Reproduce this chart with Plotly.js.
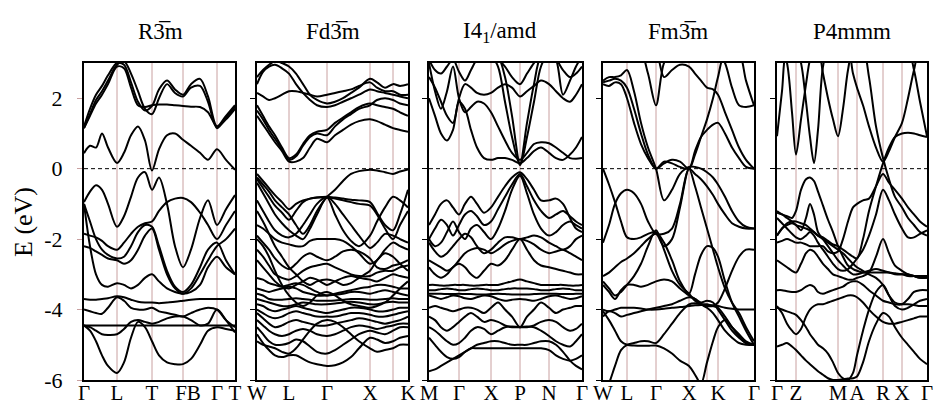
<!DOCTYPE html>
<html>
<head>
<meta charset="utf-8">
<script src="https://cdn.plot.ly/plotly-3.0.1.min.js"></script>
<style>html,body{margin:0;padding:0;background:#fff}#plot{width:935px;height:410px}</style>
</head>
<body>
<div id="plot"></div>
<script>
// ---------- shared ----------
const panelTitles = ['R3\u0305m', 'Fd3\u0305m', 'I4<sub>1</sub>/amd', 'Fm3\u0305m', 'P4mmm'];
const yTickVals = [2, 0, -2, -4, -6];
const yTickText = ['2', '0', '-2', '-4', '-6'];
const yTitle = 'E (eV)';

// ---------- panel 1 : R-3m ----------
const r3mLabels = ['Γ', 'L', 'T', 'FB', 'Γ', 'T'];
const r3mLabelPos = [0, 33, 68, 104, 133, 151];
const r3mLines = [33, 68, 99, 133];
const r3mK = [0,6,12,18,24,33,40,47,54,61,68,75,83,91,99,107,116,124,133,142,151];
const r3mBands = [
  [1.2,1.7,2.1,2.35,2.65,3.0,2.95,2.45,1.9,1.65,1.78,2.25,2.5,2.25,2.1,2.4,2.55,2.05,1.2,1.5,1.8],
  [1.15,1.55,1.95,2.2,2.5,2.95,3.05,2.7,2.2,1.7,1.55,2.0,2.4,2.15,2.05,2.3,2.35,1.9,1.15,1.45,1.75],
  [1.15,1.5,1.85,2.1,2.4,2.9,2.85,2.3,1.8,1.75,1.8,1.82,1.82,1.8,1.78,1.76,1.75,1.6,1.2,1.4,1.7],
  [0.44,0.65,0.6,1.0,0.6,0.16,0.45,0.95,1.2,0.8,-0.05,0.55,0.95,1.0,0.82,0.65,0.45,0.25,0.55,0.25,-0.03],
  [-0.95,-0.65,-0.47,-0.6,-1.0,-1.65,-1.35,-0.8,-0.25,-0.1,-0.6,-0.25,-1.0,-2.2,-2.8,-2.3,-1.4,-0.9,-1.6,-1.15,-0.75],
  [-1.85,-1.9,-1.95,-2.05,-2.2,-2.3,-2.1,-1.85,-1.65,-1.55,-1.5,-1.2,-0.95,-0.85,-0.83,-0.95,-1.25,-1.6,-2.0,-1.6,-1.2],
  [-1.0,-1.5,-2.0,-2.3,-2.45,-2.55,-2.5,-2.2,-1.8,-1.6,-1.65,-2.2,-2.9,-3.35,-3.5,-3.3,-2.8,-2.3,-2.1,-2.6,-3.0],
  [-2.2,-2.25,-2.35,-2.45,-2.55,-2.6,-2.7,-2.6,-2.3,-1.9,-1.7,-2.3,-3.0,-3.4,-3.55,-3.4,-3.0,-2.6,-2.2,-2.0,-1.7],
  [-1.0,-2.2,-3.0,-3.3,-3.35,-3.25,-3.3,-3.4,-3.3,-3.1,-3.0,-3.2,-3.4,-3.5,-3.55,-3.5,-3.3,-2.8,-2.5,-2.8,-3.0],
  [-3.7,-3.72,-3.72,-3.7,-3.68,-3.62,-3.65,-3.72,-3.78,-3.8,-3.8,-3.82,-3.8,-3.78,-3.75,-3.72,-3.7,-3.7,-3.7,-3.7,-3.7],
  [-4.0,-4.05,-4.1,-4.12,-3.95,-3.65,-3.75,-3.95,-4.0,-4.0,-3.95,-4.05,-4.1,-4.15,-4.2,-4.1,-4.0,-3.95,-4.0,-4.3,-4.5],
  [-4.45,-4.45,-4.45,-4.45,-4.45,-4.45,-4.45,-4.45,-4.45,-4.45,-4.45,-4.45,-4.45,-4.45,-4.45,-4.45,-4.45,-4.45,-4.45,-4.45,-4.45],
  [-4.45,-4.5,-4.6,-4.7,-4.72,-4.7,-4.55,-4.35,-4.3,-4.35,-4.4,-4.35,-4.25,-4.2,-4.2,-4.3,-4.45,-4.4,-4.0,-4.3,-4.65],
  [-4.45,-4.6,-4.9,-5.3,-5.6,-5.8,-5.5,-4.8,-4.35,-4.5,-4.9,-5.3,-5.5,-5.55,-5.55,-5.4,-5.0,-4.6,-4.5,-4.55,-4.6]
];

// ---------- panel 2 : Fd-3m ----------
const fd3mLabels = ['W', 'L', 'Γ', 'X', 'K'];
const fd3mLabelPos = [0, 32, 70, 113, 151];
const fd3mLines = [32, 70, 113, 136];
const fd3mK = [0,6,12,18,25,32,39,46,53,60,70,78,86,94,102,113,120,128,136,143,151];
const fd3mBands = [
  [2.6,2.8,2.95,3.05,3.0,2.9,2.7,2.4,2.1,1.95,1.85,1.9,2.0,2.15,2.3,2.55,2.45,2.3,2.4,2.35,2.4],
  [2.4,2.75,2.9,2.95,2.85,2.7,2.4,2.15,1.95,1.8,1.75,1.8,1.9,2.0,2.1,2.25,2.2,2.15,2.1,2.05,2.0],
  [2.15,2.05,1.95,2.0,2.1,2.2,2.2,2.15,2.1,2.05,2.1,2.15,2.2,2.25,2.35,2.45,2.3,2.2,2.2,2.1,2.1],
  [1.8,1.5,1.2,0.95,0.6,0.3,0.4,0.7,0.95,1.05,1.1,1.3,1.45,1.6,1.75,1.85,1.8,1.75,1.7,1.6,1.5],
  [1.5,1.25,1.0,0.75,0.5,0.2,0.2,0.3,0.6,0.85,0.75,0.95,1.1,1.25,1.35,1.4,1.35,1.25,1.15,1.1,1.05],
  [1.65,1.4,1.1,0.85,0.55,0.25,0.35,0.65,0.9,1.0,0.95,1.2,1.4,1.55,1.7,1.8,1.95,2.0,1.95,1.85,1.8],
  [-0.15,-0.35,-0.55,-0.75,-0.95,-1.15,-1.0,-0.9,-0.85,-0.82,-0.8,-0.82,-0.85,-0.88,-0.9,-0.95,-1.25,-1.6,-1.75,-1.3,-0.6],
  [-0.25,-0.45,-0.65,-0.9,-1.1,-1.3,-1.6,-1.85,-1.6,-1.2,-0.8,-0.6,-0.35,-0.15,-0.07,-0.03,-0.05,-0.1,-0.15,-0.08,-0.02],
  [-0.3,-0.55,-0.8,-1.05,-1.25,-1.45,-1.2,-0.95,-0.85,-0.82,-0.82,-0.85,-0.9,-0.95,-1.0,-1.05,-1.3,-1.7,-2.0,-1.6,-1.2],
  [-0.4,-0.7,-1.0,-1.3,-1.55,-1.75,-1.9,-2.0,-1.7,-1.3,-0.82,-1.3,-1.75,-2.05,-2.2,-1.9,-1.5,-1.1,-0.8,-0.9,-1.1],
  [-0.9,-1.2,-1.5,-1.75,-1.9,-1.95,-1.85,-1.6,-1.3,-1.0,-0.8,-1.0,-1.3,-1.6,-1.9,-2.25,-2.1,-1.85,-1.9,-2.0,-2.1],
  [-1.6,-1.7,-1.85,-2.0,-2.1,-2.15,-2.2,-2.2,-2.05,-2.0,-2.0,-2.0,-2.05,-2.2,-2.4,-2.7,-2.6,-2.3,-2.1,-2.2,-2.3],
  [-1.9,-2.1,-2.3,-2.55,-2.75,-2.85,-2.7,-2.5,-2.4,-2.5,-2.6,-2.5,-2.35,-2.3,-2.35,-2.55,-2.8,-2.85,-2.75,-2.7,-2.6],
  [-2.3,-2.5,-2.75,-3.0,-3.1,-3.15,-3.05,-2.9,-2.8,-2.75,-2.7,-2.8,-2.9,-3.0,-3.05,-3.05,-2.95,-2.9,-2.9,-2.8,-2.75],
  [-2.6,-2.8,-3.0,-3.2,-3.35,-3.4,-3.3,-3.2,-3.1,-3.15,-3.3,-3.2,-3.1,-3.05,-3.1,-3.15,-3.2,-3.1,-3.0,-3.05,-3.1],
  [-3.1,-3.15,-3.25,-3.3,-3.35,-3.3,-3.25,-3.3,-3.4,-3.5,-3.6,-3.55,-3.5,-3.45,-3.4,-3.35,-3.3,-3.3,-3.35,-3.4,-3.4],
  [-3.4,-3.45,-3.5,-3.45,-3.4,-3.35,-3.4,-3.5,-3.55,-3.6,-3.6,-3.58,-3.55,-3.5,-3.5,-3.55,-3.5,-3.45,-3.5,-3.55,-3.6],
  [-3.55,-3.6,-3.7,-3.72,-3.72,-3.7,-3.68,-3.7,-3.72,-3.75,-3.75,-3.74,-3.72,-3.7,-3.7,-3.72,-3.72,-3.7,-3.68,-3.7,-3.7],
  [-3.7,-3.75,-3.8,-3.85,-3.9,-3.9,-3.85,-3.8,-3.82,-3.85,-3.85,-3.83,-3.8,-3.78,-3.8,-3.85,-3.85,-3.8,-3.78,-3.8,-3.8],
  [-3.85,-3.9,-4.0,-4.05,-4.0,-3.95,-3.9,-3.95,-4.0,-4.05,-4.1,-4.05,-4.0,-3.95,-3.95,-4.0,-4.05,-4.05,-4.0,-3.95,-3.95],
  [-4.0,-4.1,-4.2,-4.25,-4.2,-4.1,-4.05,-4.1,-4.15,-4.2,-4.2,-4.2,-4.15,-4.1,-4.1,-4.15,-4.2,-4.2,-4.15,-4.1,-4.05],
  [-4.1,-4.25,-4.4,-4.5,-4.45,-4.35,-4.3,-4.35,-4.4,-4.45,-4.45,-4.4,-4.35,-4.3,-4.25,-4.3,-4.35,-4.4,-4.35,-4.3,-4.2],
  [-4.3,-4.45,-4.6,-4.7,-4.75,-4.7,-4.6,-4.55,-4.6,-4.7,-4.75,-4.7,-4.6,-4.5,-4.45,-4.5,-4.55,-4.5,-4.45,-4.4,-4.4],
  [-4.5,-4.7,-4.9,-5.0,-5.0,-4.95,-4.85,-4.9,-5.05,-5.2,-5.25,-5.15,-5.0,-4.85,-4.7,-4.6,-4.65,-4.7,-4.6,-4.5,-4.5],
  [-4.7,-4.95,-5.15,-5.3,-5.35,-5.3,-5.3,-5.4,-5.5,-5.55,-5.6,-5.58,-5.5,-5.35,-5.1,-4.8,-4.85,-4.95,-4.9,-4.8,-4.75],
  [-4.9,-5.0,-5.05,-5.1,-5.2,-5.25,-5.1,-4.85,-4.6,-4.4,-4.3,-4.35,-4.5,-4.7,-4.9,-5.1,-5.2,-5.15,-5.1,-5.0,-5.0],
  [-1.2,-1.5,-1.85,-2.2,-2.5,-2.8,-3.0,-3.2,-3.3,-3.2,-3.15,-3.2,-3.3,-3.25,-3.1,-2.9,-2.6,-2.4,-2.5,-2.7,-2.9],
  [-2.0,-2.2,-2.5,-2.9,-3.3,-3.6,-3.8,-3.9,-3.8,-3.6,-3.5,-3.6,-3.75,-3.85,-3.9,-3.95,-3.9,-3.8,-3.6,-3.4,-3.2]
];

// ---------- panel 3 : I4_1/amd ----------
const i41Labels = ['M', 'Γ', 'X', 'P', 'N', 'Γ'];
const i41LabelPos = [0, 30, 62, 91, 120, 153];
const i41Lines = [30, 62, 91, 120];
const i41K = [0,6,12,18,24,30,36,42,48,55,62,69,76,83,91,98,105,112,120,127,134,141,147,153];
const i41Bands = [
  [2.6,2.3,1.9,1.5,1.3,2.0,2.4,2.3,2.15,2.1,2.15,2.3,2.4,2.3,2.05,2.2,2.35,2.5,2.4,2.2,2.0,1.9,2.1,2.4],
  [3.1,2.8,2.7,2.9,3.1,2.75,2.5,2.8,3.1,3.2,3.2,3.1,2.9,2.6,2.4,2.7,3.0,3.2,3.2,3.1,2.8,2.6,2.7,2.9],
  [2.0,1.5,1.0,0.8,1.1,1.9,1.7,1.1,0.6,0.3,0.25,0.3,0.3,0.25,0.15,0.3,0.5,0.6,0.45,0.3,0.25,0.4,0.6,0.9],
  [3.3,3.3,3.3,3.3,3.3,3.3,3.3,3.3,3.3,3.3,3.2,2.9,1.9,0.9,0.1,0.9,1.9,2.9,3.3,3.3,3.3,3.3,3.3,3.3],
  [3.3,3.3,3.3,3.3,3.3,3.3,3.3,3.3,3.3,3.3,3.3,3.2,2.6,1.5,0.15,1.3,2.4,3.2,3.3,3.3,3.3,3.3,3.3,3.3],
  [3.0,2.2,1.7,2.2,2.9,2.0,1.6,1.75,1.9,1.85,1.6,1.2,0.8,0.45,0.25,0.45,0.7,0.75,0.72,0.6,0.45,0.3,0.28,0.3],
  [3.3,3.3,3.3,3.3,3.3,3.3,3.3,3.3,3.3,3.3,3.3,3.3,3.3,3.3,3.3,3.3,3.3,3.3,3.3,3.1,2.1,2.5,2.9,3.2],
  [-1.6,-1.3,-1.0,-0.9,-1.1,-1.3,-1.0,-0.8,-1.0,-1.25,-1.1,-0.8,-0.5,-0.25,-0.1,-0.3,-0.6,-0.9,-0.9,-0.85,-1.0,-1.4,-1.7,-1.8],
  [-2.0,-1.7,-1.45,-1.6,-1.9,-1.6,-1.3,-1.2,-1.35,-1.6,-1.5,-1.15,-0.8,-0.45,-0.15,-0.5,-0.9,-1.2,-1.4,-1.3,-1.2,-1.35,-1.5,-1.6],
  [-2.0,-2.2,-2.1,-1.8,-1.5,-1.8,-2.0,-1.7,-1.6,-1.8,-2.0,-1.7,-1.2,-0.6,-0.2,-0.7,-1.3,-1.7,-1.9,-1.8,-1.6,-1.5,-1.6,-1.7],
  [-2.1,-2.35,-2.5,-2.4,-2.2,-2.0,-1.85,-1.95,-2.2,-2.4,-2.3,-2.1,-1.95,-1.95,-2.0,-1.95,-1.9,-1.95,-2.1,-2.2,-2.3,-2.2,-2.0,-1.9],
  [-2.6,-2.7,-2.8,-2.9,-2.8,-2.6,-2.4,-2.3,-2.25,-2.3,-2.4,-2.3,-2.15,-2.05,-2.0,-2.05,-2.15,-2.3,-2.4,-2.35,-2.3,-2.4,-2.5,-2.6],
  [-2.8,-3.0,-3.1,-3.0,-2.8,-2.7,-2.8,-3.0,-3.1,-2.9,-2.7,-2.75,-2.6,-2.3,-2.0,-2.3,-2.6,-2.75,-2.8,-2.85,-2.9,-2.95,-3.0,-3.0],
  [-3.3,-3.3,-3.32,-3.32,-3.3,-3.3,-3.3,-3.32,-3.32,-3.3,-3.3,-3.3,-3.25,-3.2,-3.15,-3.2,-3.25,-3.3,-3.3,-3.3,-3.3,-3.32,-3.32,-3.3],
  [-3.45,-3.45,-3.42,-3.4,-3.42,-3.45,-3.45,-3.42,-3.4,-3.42,-3.45,-3.45,-3.42,-3.4,-3.4,-3.4,-3.42,-3.45,-3.45,-3.42,-3.4,-3.42,-3.45,-3.45],
  [-3.55,-3.55,-3.55,-3.56,-3.56,-3.55,-3.56,-3.56,-3.57,-3.57,-3.56,-3.55,-3.56,-3.57,-3.57,-3.57,-3.56,-3.55,-3.55,-3.55,-3.56,-3.56,-3.55,-3.55],
  [-3.6,-3.65,-3.7,-3.65,-3.6,-3.62,-3.68,-3.7,-3.65,-3.6,-3.62,-3.7,-3.75,-3.72,-3.7,-3.72,-3.75,-3.7,-3.62,-3.6,-3.65,-3.7,-3.68,-3.62],
  [-3.95,-3.9,-3.95,-4.0,-4.05,-4.0,-3.95,-3.95,-4.0,-4.1,-3.95,-3.8,-4.0,-4.2,-4.5,-4.2,-4.0,-3.8,-3.95,-4.1,-4.0,-3.95,-3.9,-3.9],
  [-4.2,-4.3,-4.5,-4.6,-4.5,-4.35,-4.2,-4.1,-4.2,-4.35,-4.3,-4.35,-4.45,-4.5,-4.5,-4.5,-4.45,-4.35,-4.3,-4.35,-4.5,-4.6,-4.55,-4.4],
  [-4.5,-4.6,-4.75,-4.9,-5.0,-4.95,-4.8,-4.6,-4.5,-4.55,-4.7,-4.6,-4.5,-4.48,-4.5,-4.48,-4.5,-4.6,-4.75,-4.9,-5.0,-5.05,-4.9,-4.7],
  [-4.8,-5.0,-5.2,-5.35,-5.4,-5.35,-5.2,-5.1,-5.1,-5.1,-5.1,-5.1,-5.1,-5.1,-5.1,-5.1,-5.1,-5.1,-5.15,-5.3,-5.4,-5.45,-5.4,-5.3],
  [-5.75,-5.7,-5.6,-5.5,-5.4,-5.3,-5.2,-5.1,-5.0,-4.95,-4.9,-4.9,-4.95,-5.0,-5.0,-5.0,-4.95,-4.9,-4.9,-5.0,-5.2,-5.45,-5.6,-5.7]
];

// ---------- panel 4 : Fm-3m ----------
const fm3mLabels = ['W', 'L', 'Γ', 'X', 'K', 'Γ'];
const fm3mLabelPos = [0, 24, 53, 86, 115, 151];
const fm3mLines = [24, 53, 86, 104, 115];
const fm3mK = [0,6,12,18,24,31,38,45,53,61,69,77,86,92,98,104,110,115,122,129,136,143,151];
const fm3mBands = [
  [2.5,2.6,2.6,2.65,2.8,2.2,1.3,0.6,0.0,-0.9,-0.6,-0.15,0.05,0.05,0.0,-0.1,-0.25,-0.45,-0.8,-1.2,-1.5,-1.65,-1.7],
  [2.4,2.35,2.45,2.4,2.0,1.3,0.7,0.3,0.0,0.15,0.25,0.2,0.0,0.4,0.9,1.4,2.0,2.6,3.3,3.3,3.3,3.3,3.3],
  [3.3,3.3,3.3,3.3,3.3,3.3,3.3,2.7,1.8,3.0,3.3,3.3,3.3,3.3,3.3,3.3,3.3,3.3,3.3,3.3,3.3,3.3,3.3],
  [3.3,3.3,3.3,3.3,3.3,3.3,3.3,3.3,3.3,2.6,2.8,2.95,2.9,2.7,2.5,2.3,2.25,2.1,1.6,1.1,0.6,0.25,0.0],
  [2.45,2.5,2.55,2.5,2.3,1.7,1.0,0.4,0.0,0.2,0.15,0.05,0.0,0.5,0.9,1.1,1.25,1.3,1.0,0.6,0.3,0.05,0.0],
  [3.3,3.3,3.3,3.3,3.3,3.3,3.3,3.3,3.3,3.3,3.3,3.3,3.3,3.3,3.3,3.3,3.3,3.3,3.0,2.3,1.8,1.75,1.8],
  [3.3,3.3,3.3,3.3,3.3,3.3,3.3,3.3,3.3,3.3,3.3,3.3,3.3,3.3,3.3,3.3,3.3,3.3,3.3,3.3,3.3,2.5,1.8],
  [0.0,-0.45,-0.95,-1.5,-1.95,-2.0,-1.95,-1.85,-1.8,-2.1,-2.6,-3.2,-3.55,-3.0,-2.45,-2.2,-2.25,-2.5,-3.2,-3.8,-4.2,-4.6,-5.0],
  [-2.1,-1.6,-1.0,-0.7,-0.6,-0.7,-1.0,-1.5,-1.85,-1.85,-1.7,-1.0,0.0,-0.15,-0.3,-0.5,-0.75,-1.0,-1.3,-1.55,-1.65,-1.7,-1.7],
  [-3.05,-2.95,-2.8,-2.65,-2.55,-2.4,-2.2,-2.0,-1.85,-2.2,-2.0,-1.1,0.0,-0.5,-1.1,-1.7,-2.3,-2.8,-3.4,-3.8,-4.1,-4.5,-4.9],
  [-3.2,-3.4,-3.6,-3.5,-3.3,-3.05,-2.7,-2.2,-1.75,-2.3,-2.9,-3.3,-3.55,-3.75,-3.85,-3.9,-3.9,-3.8,-3.4,-2.9,-2.5,-2.3,-2.3],
  [-3.3,-3.5,-3.7,-3.45,-3.3,-3.3,-3.35,-3.3,-3.2,-3.15,-3.2,-3.4,-3.6,-3.7,-3.85,-3.95,-4.1,-4.3,-4.6,-4.8,-4.95,-5.0,-5.0],
  [-4.0,-4.05,-4.0,-3.95,-3.95,-3.95,-3.97,-4.0,-4.0,-3.98,-3.95,-3.93,-3.9,-3.88,-3.87,-3.87,-3.88,-3.9,-3.95,-3.98,-4.0,-4.0,-4.0],
  [-4.05,-4.3,-4.6,-4.9,-5.0,-5.02,-5.03,-5.03,-5.02,-5.1,-5.25,-5.45,-5.6,-5.85,-6.1,-5.5,-4.9,-4.5,-4.3,-4.5,-4.7,-4.9,-5.0],
  [-6.5,-6.1,-5.6,-5.15,-5.0,-4.95,-4.9,-4.9,-4.95,-4.7,-4.4,-4.1,-3.85,-3.82,-3.85,-3.85,-3.9,-3.95,-4.2,-4.5,-4.75,-4.95,-5.0],
  [-4.2,-4.05,-4.1,-4.2,-4.15,-4.1,-4.05,-4.0,-3.95,-3.9,-3.85,-3.75,-3.65,-3.7,-3.8,-3.75,-3.8,-4.0,-4.3,-4.6,-4.8,-4.95,-5.0]
];

// ---------- panel 5 : P4mmm ----------
const p4Labels = ['Γ', 'Z', 'M', 'A', 'R', 'X', 'Γ'];
const p4LabelPos = [0, 19, 61, 80, 106, 125, 150];
const p4Lines = [19, 61, 80, 106, 125];
const p4K = [0,5,10,15,19,24,29,33,37,41,46,51,56,61,66,71,76,80,86,92,99,106,112,118,125,131,137,143,150];
const p4Bands = [
  [0.92,2.2,3.4,3.4,3.4,3.4,3.4,3.4,3.4,3.4,3.4,3.4,3.4,3.4,3.4,3.4,3.4,3.4,3.4,3.4,3.4,3.4,3.4,3.4,3.4,3.4,3.4,3.4,3.4],
  [3.4,3.4,3.0,1.6,0.4,1.4,2.4,3.1,3.4,3.4,3.4,3.4,3.4,3.4,3.4,3.4,3.4,3.4,3.4,3.4,3.4,3.4,3.4,3.4,3.4,3.4,3.4,3.4,3.4],
  [3.4,3.4,3.4,3.4,3.4,3.0,1.9,0.9,0.16,1.1,2.9,3.4,3.4,3.4,3.4,3.4,3.4,3.4,3.4,3.4,3.4,3.4,3.4,3.4,3.4,3.4,3.4,3.4,3.4],
  [3.4,3.4,3.4,3.4,3.4,3.4,3.4,3.4,3.4,3.4,2.7,2.0,1.4,0.92,1.7,2.8,3.4,3.4,3.4,3.4,3.4,3.4,3.4,3.4,3.4,3.4,3.4,3.4,3.4],
  [3.4,3.4,3.4,3.4,3.4,3.4,3.4,3.4,3.4,3.4,3.4,3.4,3.4,3.4,3.4,3.4,2.7,2.3,1.8,1.2,0.6,0.2,0.5,0.9,1.3,2.0,2.8,3.4,3.4],
  [3.4,3.4,3.4,3.4,3.4,3.4,3.4,3.4,3.4,3.4,3.4,3.4,3.4,3.4,3.4,3.4,3.4,3.4,3.4,2.6,1.2,0.3,-0.3,-0.8,-1.1,-1.4,-1.6,-1.8,-1.9],
  [-1.25,-1.3,-1.4,-1.5,-1.6,-1.65,-1.7,-1.75,-1.8,-1.9,-1.95,-2.05,-2.15,-2.2,-2.3,-2.4,-2.5,-2.55,-2.0,-1.2,-0.5,0.15,0.6,0.9,1.0,1.02,1.0,0.95,0.9],
  [3.4,3.4,3.4,3.4,3.4,3.4,3.4,3.4,3.4,3.4,3.4,3.4,3.4,3.4,3.4,3.4,3.4,3.4,3.4,3.4,3.4,3.4,3.4,3.4,3.4,3.4,2.8,1.9,0.92],
  [-1.2,-1.3,-1.35,-1.4,-1.2,-0.6,-0.3,-0.25,-0.35,-0.65,-1.05,-1.45,-1.8,-2.2,-2.5,-2.75,-2.85,-2.9,-2.95,-2.95,-2.95,-2.95,-2.95,-2.97,-3.0,-3.05,-3.05,-3.05,-3.05],
  [-1.9,-1.7,-1.6,-1.55,-1.6,-1.75,-1.4,-1.0,-1.3,-1.8,-2.0,-2.2,-2.4,-2.6,-2.75,-2.9,-3.0,-3.0,-2.95,-2.9,-2.85,-2.9,-2.95,-3.0,-3.0,-3.0,-3.05,-3.1,-3.1],
  [-1.9,-1.7,-1.55,-1.5,-1.5,-1.55,-1.6,-1.7,-1.8,-1.9,-2.0,-2.1,-2.2,-2.3,-2.4,-2.55,-2.7,-2.8,-2.9,-3.0,-3.1,-3.3,-3.6,-3.8,-3.85,-3.85,-3.87,-3.9,-3.9],
  [-2.1,-2.05,-2.0,-2.05,-2.1,-2.1,-2.15,-2.2,-2.2,-2.2,-2.2,-2.35,-2.4,-2.35,-2.0,-1.5,-1.1,-1.0,-0.9,-0.85,-0.5,-0.15,-0.4,-0.6,-0.85,-1.1,-1.3,-1.5,-1.65],
  [-2.6,-2.7,-2.8,-2.9,-2.95,-2.7,-2.4,-2.3,-2.35,-2.5,-2.7,-2.85,-3.0,-3.05,-3.1,-3.15,-3.15,-3.1,-3.05,-2.95,-2.5,-2.0,-2.4,-2.75,-2.9,-3.0,-3.05,-3.1,-3.1],
  [-3.45,-3.45,-3.48,-3.5,-3.5,-3.45,-3.35,-3.3,-3.35,-3.5,-3.55,-3.5,-3.45,-3.4,-3.35,-3.25,-3.2,-3.2,-3.3,-3.45,-3.6,-3.75,-3.8,-3.85,-3.85,-3.7,-3.5,-3.45,-3.45],
  [-3.95,-4.0,-4.05,-4.1,-4.15,-4.3,-4.5,-4.7,-4.85,-5.0,-5.1,-5.25,-5.5,-5.8,-5.95,-6.0,-5.8,-5.3,-4.6,-4.0,-3.5,-3.3,-3.6,-3.9,-4.0,-3.95,-3.85,-3.75,-3.7],
  [-5.05,-5.0,-4.95,-5.05,-5.15,-5.3,-5.45,-5.55,-5.65,-5.75,-5.85,-5.95,-6.0,-6.0,-5.98,-5.96,-5.95,-5.9,-5.5,-4.9,-4.4,-4.1,-4.2,-4.5,-4.8,-5.0,-5.2,-5.4,-5.55],
  [-3.9,-4.1,-4.4,-4.6,-4.7,-4.55,-4.2,-4.0,-3.9,-3.85,-3.85,-3.8,-3.75,-3.7,-3.65,-3.6,-3.6,-3.65,-3.8,-4.0,-4.2,-4.35,-4.4,-4.4,-4.35,-4.3,-4.25,-4.2,-4.2],
  [-1.4,-1.55,-1.7,-1.85,-1.95,-2.0,-1.9,-1.8,-1.9,-2.1,-2.3,-2.5,-2.7,-2.85,-2.9,-2.85,-2.7,-2.55,-2.3,-1.9,-1.3,-0.6,-0.9,-1.3,-1.7,-1.95,-1.95,-1.85,-1.75]
];

// ---------- build ----------
const panels = [
  {k: r3mK, bands: r3mBands, lines: r3mLines, labels: r3mLabels, labelPos: r3mLabelPos, px: [84, 235], tx: 160},
  {k: fd3mK, bands: fd3mBands, lines: fd3mLines, labels: fd3mLabels, labelPos: fd3mLabelPos, px: [257, 408], tx: 333},
  {k: i41K, bands: i41Bands, lines: i41Lines, labels: i41Labels, labelPos: i41LabelPos, px: [429, 582], tx: 500},
  {k: fm3mK, bands: fm3mBands, lines: fm3mLines, labels: fm3mLabels, labelPos: fm3mLabelPos, px: [603, 754], tx: 678},
  {k: p4K, bands: p4Bands, lines: p4Lines, labels: p4Labels, labelPos: p4LabelPos, px: [777, 927], tx: 852}
];
const W = 935, H = 410;
const yDom = [(H - 380) / H, (H - 63) / H];
const serif = "'Liberation Serif', 'Times New Roman', serif";
const gridColor = '#c9a0a0';

const traces = [];
const shapes = [];
const annotations = [];
const layout = {
  width: W, height: H,
  margin: {l: 0, r: 0, t: 0, b: 0},
  paper_bgcolor: '#ffffff', plot_bgcolor: '#ffffff',
  showlegend: false,
  font: {family: serif, color: '#000'}
};

panels.forEach((p, i) => {
  p.bands.forEach((b, j) => {
    if (b.length !== p.k.length) throw new Error('panel ' + i + ' band ' + j + ' length ' + b.length + ' vs ' + p.k.length);
  });
  const n = i === 0 ? '' : String(i + 1);
  const xa = 'x' + n, ya = 'y' + n;
  p.bands.forEach(b => {
    traces.push({
      x: p.k, y: b, xaxis: xa, yaxis: ya, type: 'scatter', mode: 'lines',
      line: {color: '#000', width: 2, shape: 'spline', smoothing: 0.9},
      hoverinfo: 'skip'
    });
  });
  const kmax = p.k[p.k.length - 1];
  layout['xaxis' + n] = {
    domain: [p.px[0] / W, p.px[1] / W], anchor: ya, range: [0, kmax],
    showline: true, mirror: true, linecolor: '#000', linewidth: 2,
    showgrid: false, zeroline: false, ticks: '', ticklen: 0, tickangle: 0,
    tickmode: 'array', tickvals: p.labelPos, ticktext: p.labels,
    tickfont: {family: serif, size: 21, color: '#000'}, ticklabelstandoff: -7,
    automargin: false, fixedrange: true
  };
  layout['yaxis' + n] = {
    domain: yDom, anchor: xa, range: [-6, 3],
    showline: true, mirror: true, linecolor: '#000', linewidth: 2,
    showgrid: false, zeroline: false,
    ticks: 'outside', ticklen: 5, tickwidth: 1, tickcolor: i === 0 ? '#c9a0a0' : '#000',
    tickmode: 'array', tickvals: yTickVals, ticktext: yTickText,
    showticklabels: i === 0,
    tickfont: {family: serif, size: 22, color: '#000'}, ticklabelstandoff: 10,
    automargin: false, fixedrange: true
  };
  p.lines.forEach(v => {
    shapes.push({type: 'line', xref: xa, yref: ya + ' domain', x0: v, x1: v, y0: 0, y1: 1,
      line: {color: gridColor, width: 1}, layer: 'below'});
  });
  shapes.push({type: 'line', xref: xa + ' domain', yref: ya, x0: 0, x1: 1, y0: 0, y1: 0,
    line: {color: '#000', width: 1, dash: '4px,3px'}, layer: 'above'});
  annotations.push({
    text: panelTitles[i], xref: 'paper', yref: 'paper',
    x: p.tx / W, y: 1 - 32 / H, xanchor: 'center', yanchor: 'middle',
    showarrow: false, font: {family: serif, size: 23, color: '#000'}
  });
});
annotations.push({
  text: yTitle, xref: 'paper', yref: 'paper', x: 23 / W, y: 1 - 222 / H,
  xanchor: 'center', yanchor: 'middle', textangle: -90, showarrow: false,
  font: {family: serif, size: 26, color: '#000'}
});
layout.shapes = shapes;
layout.annotations = annotations;

Plotly.newPlot('plot', traces, layout, {staticPlot: true, displayModeBar: false});
</script>
</body>
</html>
